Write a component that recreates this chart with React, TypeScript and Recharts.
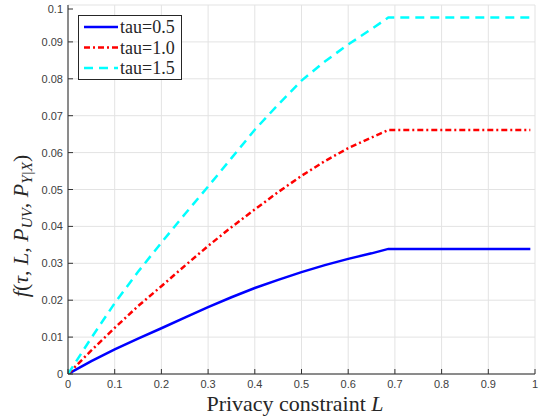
import React from "react";
import {
  CartesianGrid,
  Customized,
  Line,
  LineChart,
  XAxis,
  YAxis
} from "recharts";

// privacy constraint L
const lValues = [0, 0.05, 0.1, 0.15, 0.2, 0.25, 0.3, 0.35, 0.4, 0.45, 0.5, 0.55, 0.6, 0.65, 0.686, 0.99];
const tau05 = [0, 0.0035, 0.0067, 0.0096, 0.0124, 0.0153, 0.0181, 0.0208, 0.0233, 0.0255, 0.0276, 0.0295, 0.0312, 0.0327, 0.0339, 0.0339];
const tau10 = [0, 0.0064, 0.0125, 0.0184, 0.0238, 0.0293, 0.0347, 0.0398, 0.0446, 0.0493, 0.0537, 0.0577, 0.0612, 0.0641, 0.0661, 0.0661];
const tau15 = [0, 0.0098, 0.0192, 0.0277, 0.0356, 0.0433, 0.0508, 0.0585, 0.0662, 0.073, 0.0795, 0.0847, 0.0893, 0.0935, 0.0966, 0.0966];

const xTicks = [0, 0.1, 0.2, 0.3, 0.4, 0.5, 0.6, 0.7, 0.8, 0.9, 1];
const yTicks = [0, 0.01, 0.02, 0.03, 0.04, 0.05, 0.06, 0.07, 0.08, 0.09, 0.1];

const series = [
  { key: "t05", name: "tau=0.5", color: "#0000ff", dash: undefined as string | undefined },
  { key: "t10", name: "tau=1.0", color: "#ff0000", dash: "6 3 2 3" },
  { key: "t15", name: "tau=1.5", color: "#00ffff", dash: "9 6" }
];

const data = lValues.map((l, i) => ({ l, t05: tau05[i], t10: tau10[i], t15: tau15[i] }));

const TICK = 6;
const MARK = 5;
const tickFont = { fontFamily: "'Liberation Sans', Arial, sans-serif", fontSize: 11, fill: "#404040" };
const serif = "'Liberation Serif', 'Times New Roman', serif";

function BottomTick(props: any) {
  const { x, y, payload } = props;
  const ay = y - TICK;
  return (
    <g>
      <line x1={x} y1={ay} x2={x} y2={ay - MARK} stroke="#333" />
      <text x={x} y={ay + 14} textAnchor="middle" {...tickFont}>{String(payload.value)}</text>
    </g>
  );
}

function TopTick(props: any) {
  const { x, y } = props;
  const ay = y + TICK;
  return <line x1={x} y1={ay} x2={x} y2={ay + MARK} stroke="#333" />;
}

function LeftTick(props: any) {
  const { x, y, payload } = props;
  const ax = x + TICK;
  return (
    <g>
      <line x1={ax} y1={y} x2={ax + MARK} y2={y} stroke="#333" />
      <text x={ax - 5} y={y + 4} textAnchor="end" {...tickFont}>{String(payload.value)}</text>
    </g>
  );
}

function RightTick(props: any) {
  const { x, y } = props;
  const ax = x - TICK;
  return <line x1={ax} y1={y} x2={ax - MARK} y2={y} stroke="#333" />;
}

function YLabel() {
  const sub = { fontSize: 15, dy: 4 };
  return (
    <text
      transform="translate(28,226) rotate(-90)"
      textAnchor="middle"
      style={{ fontFamily: serif, fontSize: 22 }}
      fill="#262626"
    >
      <tspan fontStyle="italic">f</tspan>
      <tspan>(</tspan>
      <tspan fontStyle="italic">τ</tspan>
      <tspan>, </tspan>
      <tspan fontStyle="italic">L</tspan>
      <tspan>, </tspan>
      <tspan fontStyle="italic">P</tspan>
      <tspan fontStyle="italic" fontSize={sub.fontSize} dy={sub.dy}>UV</tspan>
      <tspan dy={-sub.dy}>, </tspan>
      <tspan fontStyle="italic">P</tspan>
      <tspan fontStyle="italic" fontSize={sub.fontSize} dy={sub.dy}>Y|X</tspan>
      <tspan dy={-sub.dy}>)</tspan>
    </text>
  );
}

function LegendBox() {
  return (
    <g transform="translate(78,15)">
      <rect x={0.5} y={0.5} width={103} height={64} fill="#fff" stroke="#262626" />
      {series.map((s, i) => {
        const cy = 12 + i * 20.5;
        return (
          <g key={s.key}>
            <line x1={6} y1={cy} x2={40} y2={cy} stroke={s.color} strokeWidth={2.5} strokeDasharray={s.dash} />
            <text x={42} y={cy + 6} style={{ fontFamily: serif, fontSize: 18 }} fill="#262626">{s.name}</text>
          </g>
        );
      })}
    </g>
  );
}

function XLabel() {
  return (
    <text x={295} y={411} textAnchor="middle" style={{ fontFamily: serif, fontSize: 22 }} fill="#262626">
      Privacy constraint <tspan fontStyle="italic">L</tspan>
    </text>
  );
}

export default function App() {
  return (
    <div style={{ position: "absolute", left: 0, top: 0, width: 542, height: 417, background: "#fff" }}>
      <LineChart width={542} height={417} data={data} margin={{ top: 5, right: 7, bottom: 13, left: 8 }}>
        <CartesianGrid stroke="#e3e3e3" horizontal vertical />
        <XAxis
          dataKey="l"
          type="number"
          domain={[0, 1]}
          ticks={xTicks}
          height={30}
          tickSize={TICK}
          tickMargin={0}
          tickLine={false}
          tick={<BottomTick />}
          stroke="#262626"
          allowDataOverflow
        />
        <XAxis
          xAxisId="top"
          orientation="top"
          dataKey="l"
          type="number"
          domain={[0, 1]}
          ticks={xTicks}
          height={0}
          tickSize={TICK}
          tickMargin={0}
          tickLine={false}
          tick={<TopTick />}
          stroke="#262626"
        />
        <YAxis
          type="number"
          domain={[0, 0.1]}
          ticks={yTicks}
          width={60}
          tickSize={TICK}
          tickMargin={0}
          tickLine={false}
          tick={<LeftTick />}
          stroke="#262626"
          allowDataOverflow
        />
        <YAxis
          yAxisId="right"
          orientation="right"
          type="number"
          domain={[0, 0.1]}
          ticks={yTicks}
          width={0}
          tickSize={TICK}
          tickMargin={0}
          tickLine={false}
          tick={<RightTick />}
          stroke="#262626"
        />
        {series.map((s) => (
          <Line
            key={s.key}
            type="linear"
            dataKey={s.key}
            name={s.name}
            stroke={s.color}
            strokeWidth={2.5}
            strokeDasharray={s.dash}
            dot={false}
            isAnimationActive={false}
          />
        ))}
        <Customized component={<LegendBox />} />
        <Customized component={<YLabel />} />
        <Customized component={<XLabel />} />
      </LineChart>
    </div>
  );
}
